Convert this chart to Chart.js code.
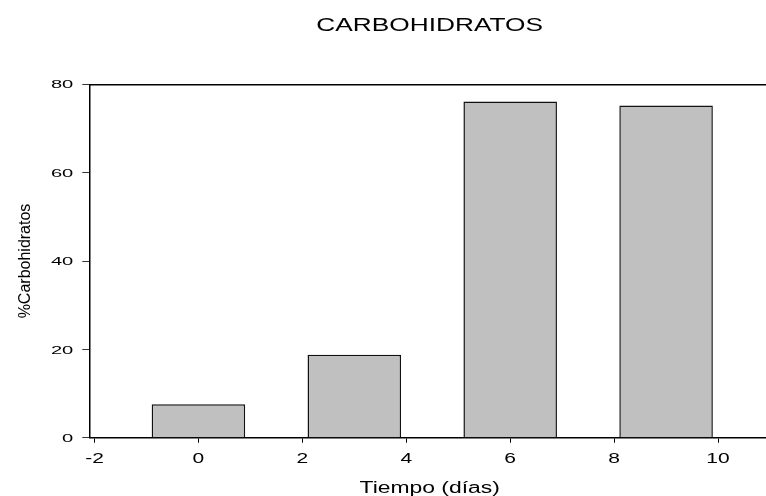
<!DOCTYPE html>
<html>
<head>
<meta charset="utf-8">
<title>CARBOHIDRATOS</title>
<script src="https://cdn.jsdelivr.net/npm/chart.js@4/dist/chart.umd.min.js"></script>
<style>
  html, body { margin: 0; padding: 0; background: #fff; overflow: hidden; }
  #wrap { width: 766px; height: 496px; overflow: hidden; position: relative; }
  canvas { display: block; }
</style>
</head>
<body>
<div id="wrap"><canvas id="chart" width="770" height="496"></canvas></div>
<script>
// Carbohydrate content over time
const chartTitle = 'CARBOHIDRATOS';
const xTitle = 'Tiempo (días)';
const yTitle = '%Carbohidratos';
const days = [0, 3, 6, 9];
const carbohidratos = [7.6, 18.8, 76.1, 75.2];
const xTicks = [-2, 0, 2, 4, 6, 8, 10];
const yTicks = [0, 20, 40, 60, 80];

const FONT = '"Liberation Sans", Arial, Helvetica, sans-serif';

// Draws wide (horizontally stretched) text, as in the original plot export
function wideText(ctx, text, x, y, sx, size, align, baseline) {
  ctx.save();
  ctx.font = size + 'px ' + FONT;
  ctx.fillStyle = '#000';
  ctx.textAlign = align;
  ctx.textBaseline = baseline;
  ctx.translate(x, y);
  ctx.scale(sx, 1);
  ctx.fillText(text, 0, 0);
  ctx.restore();
}

const labelsPlugin = {
  id: 'plotLabels',
  afterDraw(chart) {
    const ctx = chart.ctx;
    const xs = chart.scales.x;
    const ys = chart.scales.y;
    const area = chart.chartArea;
    const cx = (area.left + area.right) / 2;

    // y tick labels
    yTicks.forEach(v => {
      wideText(ctx, String(v), area.left - 16, ys.getPixelForValue(v) + 1, 1.75, 11.5, 'right', 'middle');
    });
    // x tick labels
    xTicks.forEach(v => {
      wideText(ctx, String(v), xs.getPixelForValue(v), area.bottom + 25.6, 1.5, 14, 'center', 'alphabetic');
    });
    // axis titles
    wideText(ctx, xTitle, cx, area.bottom + 55.6, 1.43, 16, 'center', 'alphabetic');
    ctx.save();
    ctx.font = '16px ' + FONT;
    ctx.fillStyle = '#000';
    ctx.textAlign = 'center';
    ctx.textBaseline = 'alphabetic';
    ctx.translate(30, (area.top + area.bottom) / 2);
    ctx.rotate(-Math.PI / 2);
    ctx.fillText(yTitle, 0, 0);
    ctx.restore();
    // chart title
    wideText(ctx, chartTitle, cx, 31, 1.5, 17.5, 'center', 'alphabetic');
  }
};

new Chart(document.getElementById('chart'), {
  type: 'bar',
  data: {
    datasets: [{
      data: days.map((d, i) => ({ x: d, y: carbohidratos[i] })),
      backgroundColor: '#c0c0c0',
      borderColor: '#111',
      borderWidth: 1.5,
      barPercentage: 0.9,
      categoryPercentage: 1.0
    }]
  },
  options: {
    responsive: false,
    animation: false,
    devicePixelRatio: 1,
    layout: { padding: { left: 82.3, top: 84.3, right: 0, bottom: 53.3 } },
    plugins: { legend: { display: false }, tooltip: { enabled: false }, title: { display: false } },
    scales: {
      x: {
        type: 'linear',
        position: 'bottom',
        min: -2.1,
        max: 11,
        offset: false,
        afterBuildTicks: s => { s.ticks = xTicks.map(v => ({ value: v })); },
        ticks: { display: false },
        grid: { offset: false, drawOnChartArea: false, drawTicks: true, tickLength: 5, color: '#000', lineWidth: 1 },
        border: { display: true, color: '#000', width: 1.5 }
      },
      top: {
        type: 'linear',
        position: 'top',
        min: -2.1,
        max: 11,
        ticks: { display: false },
        grid: { display: false, drawTicks: false },
        border: { display: true, color: '#000', width: 1.5 }
      },
      y: {
        type: 'linear',
        min: 0,
        max: 80,
        afterBuildTicks: s => { s.ticks = yTicks.map(v => ({ value: v })); },
        ticks: { display: false },
        grid: { drawOnChartArea: false, drawTicks: true, tickLength: 7, color: '#333', lineWidth: 1 },
        border: { display: true, color: '#000', width: 1.5 }
      }
    }
  },
  plugins: [labelsPlugin]
});
</script>
</body>
</html>
